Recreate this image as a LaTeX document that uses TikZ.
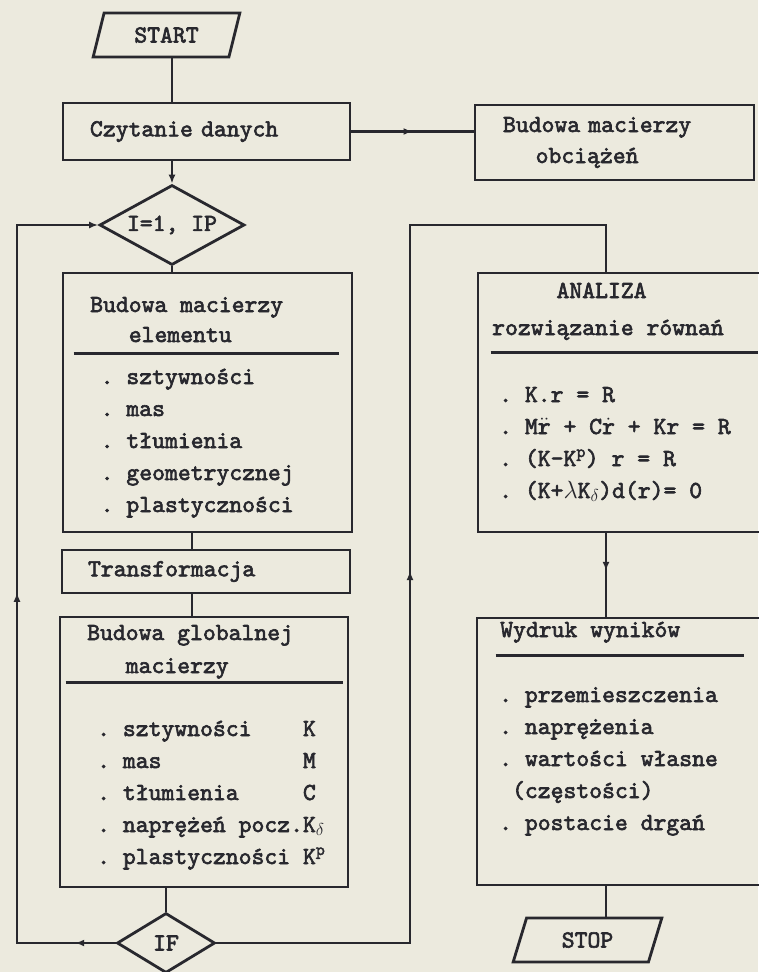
\documentclass[tikz,border=0pt]{standalone}
\usepackage{fontspec}
\setmonofont{lmmono10-regular.otf}[UprightFeatures={FakeBold=2.5}]
\usetikzlibrary{arrows.meta,shapes.geometric,positioning,calc,decorations.markings}

\definecolor{paper}{RGB}{236,234,222}
\definecolor{ink}{RGB}{40,40,46}

\begin{document}
\begin{tikzpicture}[x=1pt,y=-1pt,
    >={Latex[length=9pt,width=7pt]},
    mono/.style={font=\fontsize{24.5}{#1}\selectfont\ttfamily\frenchspacing},
    mono/.default=32,
    every node/.style={mono, text=ink},
    line/.style={draw=ink, line width=2.8pt},
    box/.style={rectangle, line, inner sep=0pt},
    io/.style={trapezium, trapezium left angle=70, trapezium right angle=110,
            trapezium stretches=true, line, inner sep=0pt},
    dec/.style={diamond, aspect=1.8, line, inner sep=0pt},
    midarrow/.style={postaction={decorate,
            decoration={markings, mark=at position #1 with {\arrow{>}}}}},
    label/.style={anchor=base west, align=left, inner sep=0pt}]

    \useasboundingbox[fill=paper] (0,0) rectangle (758,972);

    % axes of the vertical connectors
    \coordinate (axl) at (192,0);
    \coordinate (axr) at (606,0);
    \coordinate (loopl) at (17,0);
    \coordinate (loopr) at (410,225);

    % left column (labels sit on the baseline of their last line)
    \node (start) [io, minimum width=147pt, minimum height=44pt] at (166.5,35) {START};

    \node (czyt) [box, minimum width=287pt, minimum height=57pt, text width=233pt,
        inner xsep=27pt, align=left] at (206.5,131.5) {Czytanie danych};

    \node (ip) [dec, minimum width=145pt, minimum height=80pt] at (172,225) {I=1, IP};

    \node (elem) [box, minimum width=289pt, minimum height=259pt] at (207.5,402.5) {};
    \node (elemtitle) [label, mono=30] at (90,342) {Budowa macierzy\\~~~elementu};
    \draw [line] ($(elem.north west)+(12,82)$) -- ($(elem.north east)+(-14,82)$);
    \node (elemlist) [label] at (100.5,512)
        {. sztywności\\. mas\\. tłumienia\\. geometrycznej\\. plastyczności};

    \node (transf) [box, minimum width=288pt, minimum height=43pt, text width=236pt,
        inner xsep=26pt, align=left] at (206,571.5) {Transformacja};

    \node (glob) [box, minimum width=288pt, minimum height=270pt] at (204,752) {};
    \node (globtitle) [label, mono=33] at (87,673) {Budowa globalnej\\~~~macierzy};
    \draw [line] ($(glob.north west)+(7,67)$) -- ($(glob.north east)+(-6,67)$);
    \node (globlist) [label] at (97,864)
        {. sztywności~~~~K\\
         . mas~~~~~~~~~~~M\\
         . tłumienia~~~~~C\\
         . naprężeń pocz.K$_\delta$\\
         . plastyczności K\textsuperscript{p}};

    \node (iff) [dec, minimum width=98pt, minimum height=60pt] at (166,943) {IF};

    % right column
    \node (obc) [box, minimum width=279pt, minimum height=75pt, text width=223pt,
        inner xsep=28pt, align=left, mono=31] at (614.5,142.5)
        {Budowa macierzy\\~~~~obciążeń};

    \node (anal) [box, minimum width=283pt, minimum height=259pt] at (619.5,402.5) {};
    \node (analtitle) [label, mono=37] at (492,335) {~~~~~ANALIZA\\rozwiązanie równań};
    \draw [line] ($(anal.north west)+(14,81)$) -- ($(anal.north east)+(-4,81)$);
    \node (anallist) [label, mono=32] at (499,498)
        {. K.r = R\\
         . M$\ddot{\mathtt{r}}$ + C$\dot{\mathtt{r}}$ + Kr = R\\
         . (K-K\textsuperscript{p}) r = R\\
         . (K+$\lambda$K$_\delta$)d(r)= 0};

    \node (wyd) [box, minimum width=284pt, minimum height=267pt] at (619,751.5) {};
    \node (wydtitle) [label] at (500,637) {Wydruk wyników};
    \draw [line] ($(wyd.north west)+(20,39)$) -- ($(wyd.north east)+(-18,39)$);
    \node (wydlist) [label] at (499,830)
        {. przemieszczenia\\. naprężenia\\. wartości własne\\~(częstości)\\. postacie drgań};

    \node (stop) [io, minimum width=149pt, minimum height=44pt] at (587.5,940) {STOP};

    % connectors
    \draw [line] (ip.north |- start.south) -- (ip.north |- czyt.north);
    \draw [line, ->] (ip.north |- czyt.south) -- (ip.north);
    \draw [line] (ip.south) -- (ip.south |- elem.north);
    \draw [line, midarrow=0.5] (czyt.east) -- (obc.west |- czyt.east);
    \draw [line] (elem.south -| axl) -- (transf.north -| axl);
    \draw [line] (transf.south -| axl) -- (glob.north -| axl);
    \draw [line] (iff.north |- glob.south) -- (iff.north);
    \draw [line, midarrow=0.045, midarrow=0.5, ->]
        (iff.west) -- (iff.west -| loopl) -- (ip.west -| loopl) -- (ip.west);
    \draw [line, midarrow=0.49]
        (iff.east) -- (iff.east -| loopr) -- (loopr) -- (loopr -| axr) -- (anal.north -| axr);
    \draw [line, midarrow=0.45] (anal.south -| axr) -- (wyd.north -| axr);
    \draw [line] (wyd.south -| axr) -- (stop.north -| axr);
\end{tikzpicture}
\end{document}
